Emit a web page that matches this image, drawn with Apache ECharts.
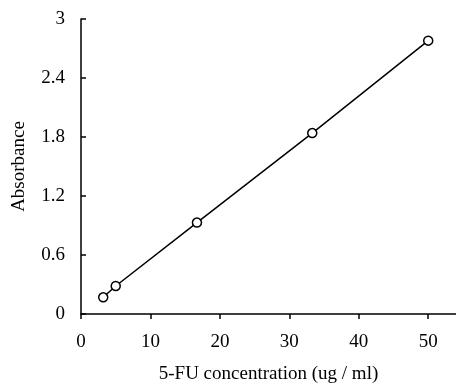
<!DOCTYPE html>
<html lang="en" style="height: 100%">
<head>
  <meta charset="utf-8">
</head>
<body style="height: 100%; margin: 0; background: #fff">
  <div id="container" style="width: 456px; height: 385px"></div>

  <script type="text/javascript" src="https://cdn.jsdelivr.net/npm/echarts@6/dist/echarts.min.js"></script>

  <script type="text/javascript">
    var dom = document.getElementById('container');
    var myChart = echarts.init(dom, null, { renderer: 'canvas' });

    // 5-FU standard curve
    var concentration = [3.2, 5, 16.7, 33.3, 50];
    var absorbance = [0.17, 0.285, 0.93, 1.84, 2.78];

    var font = 'Liberation Serif';
    var data = concentration.map(function (c, i) {
      return [c, absorbance[i]];
    });

    var option = {
      animation: false,
      grid: { left: 81, top: 19, right: 0, bottom: 71, outerBoundsMode: 'none' },
      xAxis: {
        type: 'value',
        min: 0,
        max: 54,
        interval: 10,
        name: '5-FU concentration (ug / ml)',
        nameLocation: 'middle',
        nameGap: 51,
        nameTextStyle: { fontFamily: font, fontSize: 19, color: '#000' },
        axisLine: { lineStyle: { color: '#000', width: 1.5 } },
        axisTick: { inside: false, length: 5, lineStyle: { color: '#000', width: 1.5 } },
        axisLabel: { fontFamily: font, fontSize: 19, color: '#000', margin: 19, showMaxLabel: false },
        splitLine: { show: false }
      },
      yAxis: {
        type: 'value',
        min: 0,
        max: 3,
        interval: 0.6,
        name: 'Absorbance',
        nameLocation: 'middle',
        nameGap: 52,
        nameTextStyle: { fontFamily: font, fontSize: 19, color: '#000' },
        axisLine: { onZero: false, lineStyle: { color: '#000', width: 1.5 } },
        axisTick: { inside: true, length: 5, lineStyle: { color: '#000', width: 1.5 } },
        axisLabel: { fontFamily: font, fontSize: 19, color: '#000', margin: 16 },
        splitLine: { show: false }
      },
      series: [
        {
          type: 'line',
          data: data,
          symbol: 'circle',
          symbolSize: 9,
          lineStyle: { color: '#000', width: 1.5 },
          itemStyle: { color: '#fff', borderColor: '#000', borderWidth: 1.5 }
        }
      ]
    };

    myChart.setOption(option);
    window.addEventListener('resize', myChart.resize);
  </script>
</body>
</html>
